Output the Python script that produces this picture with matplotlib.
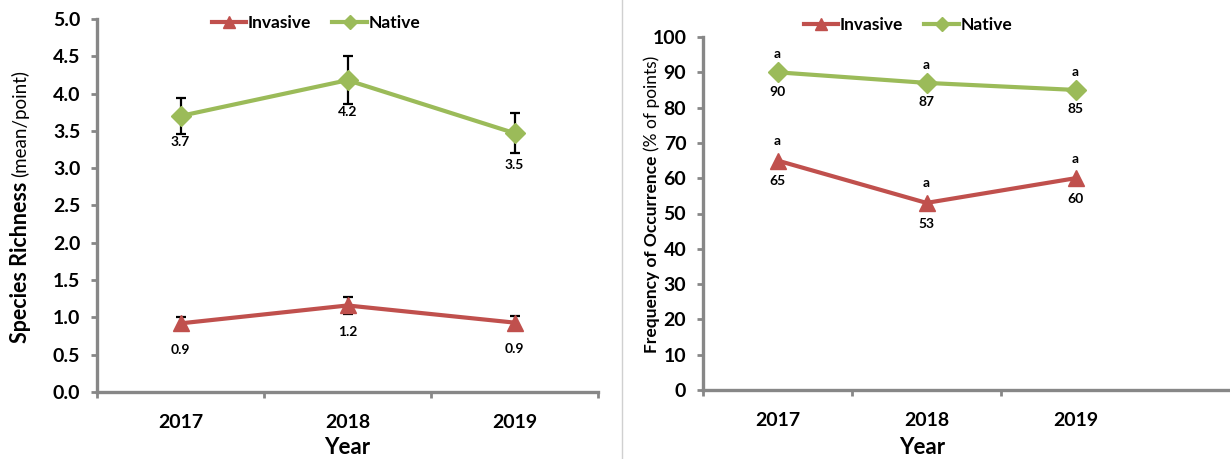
import numpy as np
import matplotlib
matplotlib.use("Agg")
import matplotlib.pyplot as plt
from matplotlib.lines import Line2D

plt.rcParams['font.family'] = ['Lato', 'DejaVu Sans']

# data
years = ["2017", "2018", "2019"]
rich_native = [3.70, 4.18, 3.47]
rich_native_err = [0.24, 0.32, 0.27]
rich_invasive = [0.92, 1.16, 0.93]
rich_invasive_err = [0.08, 0.12, 0.09]
freq_native = [90, 87, 85]
freq_invasive = [65, 53, 60]
freq_letters_native = ["a", "a", "a"]
freq_letters_invasive = ["a", "a", "a"]

RED = "#C0504D"
GREEN = "#9BBB59"
GRAY = "#878787"

W, H = 1230, 459
fig = plt.figure(figsize=(W / 100, H / 100), dpi=100)


def px_axes(x0, y0, x1, y1):
    # pixel box (top-left origin) -> figure axes
    return fig.add_axes([x0 / W, 1 - y1 / H, (x1 - x0) / W, (y1 - y0) / H])


def style_axes(ax):
    for s in ["top", "right"]:
        ax.spines[s].set_visible(False)
    for s in ["left", "bottom"]:
        ax.spines[s].set_color(GRAY)
        ax.spines[s].set_linewidth(2.4)
    ax.tick_params(axis="y", which="major", direction="out", length=4, width=2,
                   color=GRAY, labelsize=14, pad=8)
    ax.tick_params(axis="x", which="major", length=0, labelsize=14, pad=16)
    ax.tick_params(axis="x", which="minor", direction="out", length=4, width=2, color=GRAY)
    for lab in ax.get_yticklabels() + ax.get_xticklabels():
        lab.set_fontweight("bold")


x = np.arange(len(years))

# ---- left panel: species richness
ax1 = px_axes(97, 19, 598, 392)
ax1.errorbar(x, rich_native, yerr=rich_native_err, fmt="none", ecolor="black",
             elinewidth=1.6, capsize=3.5, capthick=1.6, zorder=2)
ax1.errorbar(x, rich_invasive, yerr=rich_invasive_err, fmt="none", ecolor="black",
             elinewidth=1.6, capsize=3.5, capthick=1.6, zorder=2)
ax1.plot(x, rich_invasive, color=RED, lw=3, marker="^", ms=11, zorder=3)
ax1.plot(x, rich_native, color=GREEN, lw=3, marker="D", ms=10, zorder=3)
ax1.set_xlim(-0.5, 2.5)
ax1.set_ylim(0, 5)
ax1.set_yticks(np.arange(0, 5.01, 0.5))
ax1.set_yticklabels([f"{v:.1f}" for v in np.arange(0, 5.01, 0.5)])
ax1.set_xticks(x)
ax1.set_xticklabels(years)
ax1.set_xticks([-0.5, 0.5, 1.5, 2.5], minor=True)
style_axes(ax1)

native_off = [-19, -23, -23]
for xi, v, dy in zip(x, rich_native, native_off):
    ax1.annotate(f"{v:.1f}", (xi, v), xytext=(0, dy), textcoords="offset points",
                 ha="center", va="center", fontsize=10, fontweight="bold")
for xi, v in zip(x, rich_invasive):
    ax1.annotate(f"{v:.1f}", (xi, v), xytext=(0, -19), textcoords="offset points",
                 ha="center", va="center", fontsize=10, fontweight="bold")

# ---- right panel: frequency of occurrence
ax2 = px_axes(703, 37, W, 390)
ax2.plot(x, freq_invasive, color=RED, lw=3, marker="^", ms=11, zorder=3)
ax2.plot(x, freq_native, color=GREEN, lw=3, marker="D", ms=10, zorder=3)
ax2.set_xlim(-0.5, -0.5 + (W - 703) / 149)
ax2.set_ylim(0, 100)
ax2.set_yticks(np.arange(0, 101, 10))
ax2.set_xticks(x)
ax2.set_xticklabels(years)
ax2.set_xticks([-0.5, 0.5, 1.5], minor=True)
style_axes(ax2)

for xi, v, lt in zip(x, freq_native, freq_letters_native):
    ax2.annotate(f"{v:.0f}", (xi, v), xytext=(0, -14), textcoords="offset points",
                 ha="center", va="center", fontsize=10, fontweight="bold")
    ax2.annotate(lt, (xi, v), xytext=(0, 13), textcoords="offset points",
                 ha="center", va="center", fontsize=10, fontweight="bold")
for xi, v, lt in zip(x, freq_invasive, freq_letters_invasive):
    ax2.annotate(f"{v:.0f}", (xi, v), xytext=(0, -15), textcoords="offset points",
                 ha="center", va="center", fontsize=10, fontweight="bold")
    ax2.annotate(lt, (xi, v), xytext=(0, 14), textcoords="offset points",
                 ha="center", va="center", fontsize=10, fontweight="bold")


# axis titles: bold part, then the unit in regular weight right after it
def ptext(px, py, s, rot=0, **kw):
    return fig.text(px / W, 1 - py / H, s, rotation=rot, rotation_mode="anchor", **kw)


def ylabel_pair(px, py, bold, unit, bsize, usize, gap=5):
    t = ptext(px, py, bold, 90, ha="left", va="center", fontweight="bold", fontsize=bsize)
    fig.canvas.draw()
    top = t.get_window_extent(fig.canvas.get_renderer()).y1
    fig.text(px / W, (top + gap) / H, unit, rotation=90, rotation_mode="anchor",
             ha="left", va="center", fontsize=usize)


ylabel_pair(20, 343, "Species Richness", "(mean/point)", 15.5, 13.5)
ylabel_pair(652, 353, "Frequency of Occurrence", "(% of points)", 12.5, 12.5)
ptext(347, 447, "Year", ha="center", va="center", fontweight="bold", fontsize=16)
ptext(922, 447, "Year", ha="center", va="center", fontweight="bold", fontsize=16)

# legends
handles = [Line2D([], [], color=RED, lw=3, marker="^", ms=9),
           Line2D([], [], color=GREEN, lw=3, marker="D", ms=7)]
for cx, cy in [(316, 23), (908, 25)]:
    fig.legend(handles, ["Invasive", "Native"], loc="center", ncol=2, frameon=False,
               bbox_to_anchor=(cx / W, 1 - cy / H), handlelength=2.0, handletextpad=0.1,
               columnspacing=1.2, prop={"weight": "bold", "size": 12.5})

# divider between the two panels
fig.add_artist(Line2D([622 / W, 622 / W], [0, 1], color="#d0d0d0", lw=1))

fig.savefig("out.png", dpi=100)
